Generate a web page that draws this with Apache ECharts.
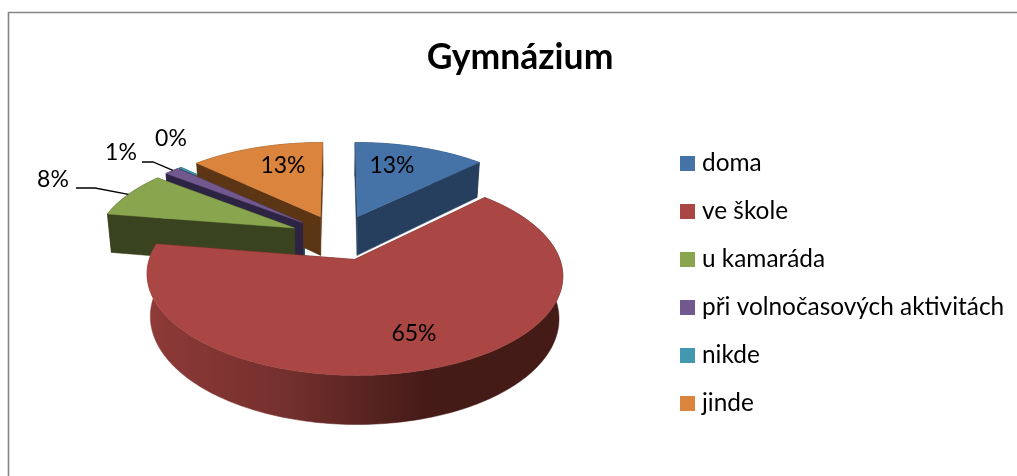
<!DOCTYPE html>
<html><head><meta charset="utf-8">
<style>html,body{margin:0;padding:0;background:#fff}#c{width:1017px;height:476px}</style>
<script src="https://cdn.jsdelivr.net/npm/echarts@6/dist/echarts.min.js"></script>
</head><body><div id="c"></div>
<script>
// ---- data ----
const title = 'Gymnázium';
const categories = ['doma','ve škole','u kamaráda','při volnočasových aktivitách','nikde','jinde'];
const shares = [12.6, 65.0, 8.0, 1.4, 0.2, 12.8];
// ---- styling ----
const topColors  = ['#4572A7','#AA4643','#89A54E','#71588F','#4198AF','#DB843D'];
const sideColors = ['#263F5E','#451B18','#3A431F','#2D2342','#1F4C5A','#5C3514'];
const paintOrder = [5,6,4,3,1,2]; // z for each slice: back to front
// ---- layout of the tilted pie ----
const P = {cx:339, cy:237, fx:198, fy:91, k:0.15, explode:0.25, depth:40, lowerScale:0.983};
const labelBoxes = [[392,166],[414,334],[53,180],[121,153],[171,139],[283,166]];
const leaderFrom = {2:[[76,188],[95,188]], 3:[[142,162],[153,162]]};
const FONT = 'Lato';

const total = shares.reduce((a,b)=>a+b,0);
const startAngles = shares.map((_,i)=>shares.slice(0,i).reduce((a,b)=>a+b,0)/total*2*Math.PI);
function project(X,Y,drop){
  const s=1/(1+P.k*Y), sx=drop?s*P.lowerScale:s;
  return [P.cx+P.fx*X*sx,P.cy-P.fy*Y*s+(drop?P.depth*s:0)];
}
function sliceGeom(i){
  const a0=startAngles[i], a1=a0+shares[i]/total*2*Math.PI, mid=(a0+a1)/2;
  const ox=P.explode*Math.sin(mid), oy=P.explode*Math.cos(mid);
  const steps=Math.max(2,Math.ceil((a1-a0)/0.02));
  const arc=(drop)=>{const r=[];for(let j=0;j<=steps;j++){const a=a0+(a1-a0)*j/steps;r.push(project(ox+Math.sin(a),oy+Math.cos(a),drop));}return r;};
  return {a0,a1,mid,ox,oy,arcTop:arc(false),arcLow:arc(true),apexTop:project(ox,oy,false),apexLow:project(ox,oy,true)};
}
function sliceRender(i){
  return function(){
    const g=sliceGeom(i), n=g.arcTop.length-1;
    const side=i===1?{type:'linear',x:0,y:0,x2:1,y2:0,colorStops:[{offset:0,color:'#8E3A38'},{offset:0.33,color:'#74302D'},{offset:0.67,color:'#451B18'},{offset:1,color:'#451B18'}]}:sideColors[i];
    const poly=(pts,fill,stroke)=>({type:'polygon',shape:{points:pts},style:{fill,stroke:stroke||fill,lineWidth:0.5}});
    return {type:'group',children:[
      poly([g.apexTop,g.arcTop[0],g.arcLow[0],g.apexLow],sideColors[i]),
      poly([g.apexTop,g.arcTop[n],g.arcLow[n],g.apexLow],sideColors[i]),
      poly(g.arcTop.concat(g.arcLow.slice().reverse()),side),
      poly([g.apexTop].concat(g.arcTop),topColors[i])
    ]};
  };
}
const sliceSeries=categories.map((name,i)=>({
  type:'custom',name,coordinateSystem:'none',z:paintOrder[i],silent:true,
  itemStyle:{color:topColors[i]},
  data:[{name,value:shares[i]}],
  renderItem:sliceRender(i)
}));
const labelSeries={
  type:'custom',name:'labels',coordinateSystem:'none',z:20,silent:true,
  data:shares.map((v,i)=>({value:v})),
  renderItem:function(params){
    const i=params.dataIndex, kids=[];
    kids.push({type:'text',style:{text:Math.round(shares[i])+'%',x:labelBoxes[i][0],y:labelBoxes[i][1],align:'center',verticalAlign:'middle',font:'23px '+FONT,fill:'#000'}});
    if(leaderFrom[i]){
      const g=sliceGeom(i),e=g.arcTop[Math.floor(g.arcTop.length/2)];
      kids.push({type:'polyline',shape:{points:leaderFrom[i].concat([e])},style:{stroke:'#000',lineWidth:1.3,fill:null}});
    }
    return {type:'group',children:kids};
  }
};
const chart=echarts.init(document.getElementById('c'),null,{renderer:'canvas'});
chart.setOption({
  animation:false,backgroundColor:'#fff',
  title:{text:title,left:515,top:35,textAlign:'center',textStyle:{fontFamily:FONT,fontWeight:'bold',fontSize:35.5,color:'#000'}},
  legend:{orient:'vertical',left:680,top:151.5,padding:0,itemWidth:15,itemHeight:15,itemGap:24,icon:'rect',data:categories,selectedMode:false,
    textStyle:{fontFamily:FONT,fontSize:24.4,lineHeight:24,color:'#000',padding:[0,0,0,2]}},
  graphic:[{type:'polyline',shape:{points:[[1017,12.5],[8.5,12.5],[8.5,476]]},style:{stroke:'#868686',lineWidth:1.6,fill:null}}],
  series:sliceSeries.concat([labelSeries])
});
</script></body></html>
